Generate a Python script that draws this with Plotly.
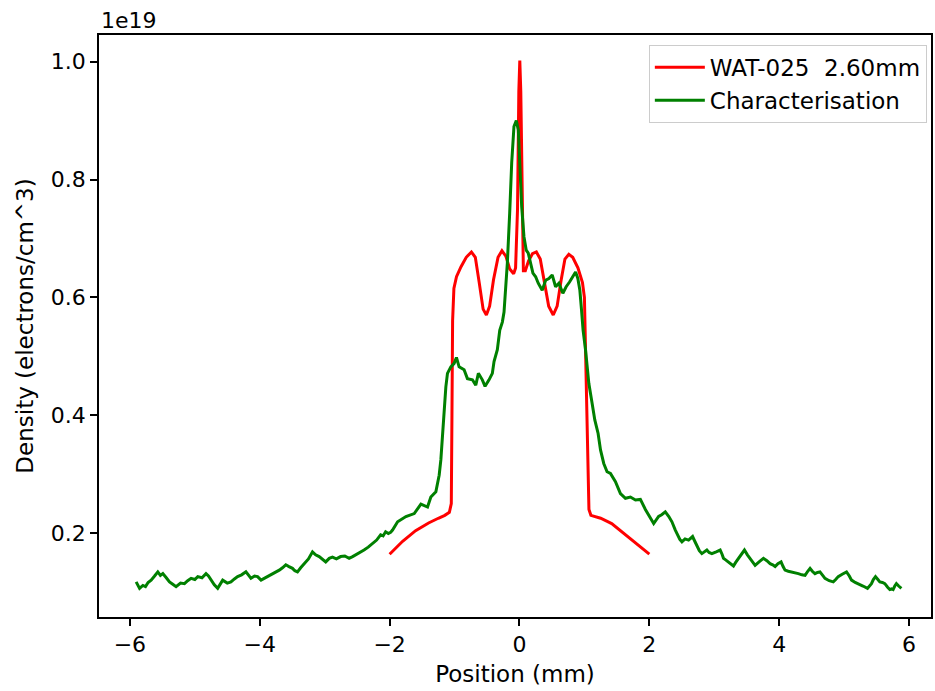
import plotly.graph_objects as go

# Red curve: WAT-025 2.60mm (density in units of 1e19 electrons/cm^3)
red_x = [-2.00, -1.80, -1.60, -1.40, -1.25, -1.15, -1.08, -1.05, -1.04, -1.03, -1.01, -0.97,
         -0.90, -0.82, -0.74, -0.68, -0.62, -0.56, -0.51, -0.46, -0.40, -0.33, -0.27, -0.21,
         -0.15, -0.09, -0.06, -0.03, -0.01, 0.005, 0.02, 0.04, 0.06, 0.09, 0.14, 0.20, 0.26,
         0.32, 0.38, 0.45, 0.52, 0.58, 0.64, 0.70, 0.76, 0.82, 0.90, 0.97, 1.00, 1.03, 1.05,
         1.07, 1.10, 1.25, 1.42, 1.60, 1.80, 2.00]
red_y = [0.164, 0.186, 0.204, 0.217, 0.225, 0.230, 0.235, 0.250, 0.400, 0.560, 0.615, 0.635,
         0.652, 0.668, 0.677, 0.668, 0.625, 0.580, 0.570, 0.585, 0.630, 0.668, 0.679, 0.670,
         0.648, 0.640, 0.650, 0.750, 0.950, 1.002, 0.950, 0.750, 0.645, 0.645, 0.662, 0.674, 0.677,
         0.665, 0.625, 0.585, 0.570, 0.585, 0.628, 0.665, 0.673, 0.668, 0.650, 0.625, 0.600, 0.450, 0.300,
         0.240, 0.230, 0.225, 0.216, 0.200, 0.183, 0.164]

# Green curve: Characterisation
green_x = [-5.904, -5.878, -5.851, -5.80, -5.76, -5.72, -5.673, -5.62, -5.570, -5.53,
           -5.493, -5.44, -5.390, -5.34, -5.289, -5.22, -5.160, -5.11, -5.058, -5.00,
           -4.955, -4.89, -4.828, -4.79, -4.751, -4.70, -4.648, -4.61, -4.571, -4.50,
           -4.444, -4.39, -4.341, -4.28, -4.213, -4.17, -4.136, -4.08, -4.034, -3.98,
           -3.931, -3.88, -3.829, -3.76, -3.700, -3.65, -3.599, -3.55, -3.496, -3.46,
           -3.419, -3.37, -3.316, -3.25, -3.188, -3.14, -3.085, -3.03, -2.984, -2.93,
           -2.881, -2.82, -2.754, -2.69, -2.624, -2.57, -2.523, -2.46, -2.394, -2.33,
           -2.266, -2.20, -2.139, -2.10, -2.062, -2.02, -1.985,
           -1.955, -1.877, -1.749, -1.621, -1.518, -1.416, -1.365, -1.288, -1.237, -1.211,
           -1.186, -1.160, -1.134, -1.109, -1.057, -1.006, -0.971, -0.930, -0.853, -0.802,
           -0.725, -0.673, -0.633, -0.572, -0.530, -0.469, -0.418, -0.392, -0.341, -0.304,
           -0.264, -0.238, -0.187, -0.151, -0.120, -0.085, -0.049, -0.018, 0.003, 0.034,
           0.069, 0.104, 0.135, 0.172, 0.207, 0.249, 0.289, 0.350, 0.403, 0.453,
           0.504, 0.556, 0.607, 0.668, 0.719, 0.771, 0.822, 0.864, 0.899, 0.930,
           0.956, 0.980, 1.017, 1.068, 1.119, 1.160, 1.211, 1.248, 1.298, 1.349,
           1.401, 1.478, 1.555, 1.632, 1.709, 1.786, 1.862, 1.939,
           2.067, 2.10, 2.143, 2.19, 2.246, 2.30, 2.348, 2.40, 2.440, 2.47,
           2.502, 2.55, 2.604, 2.64, 2.666, 2.70, 2.732, 2.77, 2.809, 2.85,
           2.886, 2.92, 2.963, 3.03, 3.091, 3.12, 3.142, 3.18, 3.219, 3.26,
           3.296, 3.33, 3.373, 3.42, 3.465, 3.51, 3.553, 3.59, 3.629, 3.69,
           3.757, 3.81, 3.860, 3.90, 3.937, 3.98, 4.029, 4.06, 4.090, 4.14,
           4.192, 4.24, 4.295, 4.35, 4.398, 4.44, 4.475, 4.51, 4.551, 4.59,
           4.628, 4.67, 4.705, 4.77, 4.833, 4.87, 4.909, 4.97, 5.037, 5.08,
           5.114, 5.17, 5.217, 5.29, 5.360, 5.39, 5.421, 5.45, 5.483, 5.52,
           5.550, 5.59, 5.627, 5.67, 5.704, 5.73, 5.754, 5.78, 5.805, 5.84,
           5.882]
green_y = [0.117, 0.110, 0.106, 0.111, 0.109, 0.116, 0.120, 0.127, 0.134, 0.128,
           0.131, 0.124, 0.117, 0.113, 0.109, 0.115, 0.114, 0.119, 0.123, 0.121,
           0.126, 0.124, 0.131, 0.127, 0.120, 0.112, 0.106, 0.114, 0.120, 0.115,
           0.117, 0.122, 0.126, 0.129, 0.134, 0.128, 0.123, 0.127, 0.126, 0.120,
           0.123, 0.126, 0.128, 0.133, 0.137, 0.141, 0.146, 0.143, 0.140, 0.136,
           0.134, 0.141, 0.148, 0.156, 0.168, 0.163, 0.160, 0.155, 0.151, 0.157,
           0.159, 0.156, 0.160, 0.161, 0.157, 0.160, 0.163, 0.166, 0.171, 0.176,
           0.182, 0.188, 0.197, 0.195, 0.202, 0.199, 0.201,
           0.205, 0.219, 0.228, 0.233, 0.249, 0.244, 0.261, 0.270, 0.298, 0.324,
           0.369, 0.414, 0.448, 0.471, 0.482, 0.488, 0.498, 0.482, 0.477, 0.462,
           0.460, 0.451, 0.471, 0.460, 0.449, 0.460, 0.471, 0.491, 0.511, 0.544,
           0.558, 0.575, 0.658, 0.743, 0.828, 0.890, 0.900, 0.884, 0.828, 0.754,
           0.703, 0.680, 0.675, 0.658, 0.641, 0.635, 0.624, 0.612, 0.629, 0.632,
           0.638, 0.618, 0.624, 0.607, 0.618, 0.626, 0.635, 0.643, 0.632, 0.612,
           0.578, 0.544, 0.511, 0.454, 0.420, 0.392, 0.369, 0.341, 0.318, 0.304,
           0.301, 0.287, 0.267, 0.259, 0.261, 0.256, 0.257, 0.240,
           0.216, 0.222, 0.228, 0.231, 0.236, 0.228, 0.219, 0.205, 0.196, 0.189,
           0.185, 0.190, 0.188, 0.192, 0.194, 0.186, 0.179, 0.170, 0.165, 0.169,
           0.171, 0.167, 0.165, 0.168, 0.171, 0.164, 0.157, 0.154, 0.151, 0.147,
           0.144, 0.150, 0.157, 0.164, 0.171, 0.163, 0.157, 0.150, 0.145, 0.151,
           0.157, 0.153, 0.148, 0.146, 0.143, 0.148, 0.151, 0.143, 0.137, 0.135,
           0.134, 0.132, 0.131, 0.129, 0.128, 0.135, 0.140, 0.135, 0.131, 0.133,
           0.134, 0.128, 0.123, 0.119, 0.117, 0.121, 0.126, 0.130, 0.134, 0.127,
           0.120, 0.116, 0.114, 0.110, 0.106, 0.110, 0.114, 0.121, 0.126, 0.121,
           0.117, 0.116, 0.114, 0.108, 0.104, 0.105, 0.104, 0.110, 0.114, 0.110,
           0.106]

x_ticks = [-6, -4, -2, 0, 2, 4, 6]
y_ticks = [0.2, 0.4, 0.6, 0.8, 1.0]
y_tick_text = ["0.2", "0.4", "0.6", "0.8", "1.0"]

FONT = "DejaVu Sans"
FS_TICK = 22
FS = 23

fig = go.Figure()
fig.add_trace(go.Scatter(x=red_x, y=red_y, mode="lines", name="WAT-025  2.60mm",
                         line=dict(color="#ff0000", width=3)))
fig.add_trace(go.Scatter(x=green_x, y=green_y, mode="lines", name="Characterisation",
                         line=dict(color="#008000", width=3)))

axis_common = dict(showgrid=False, zeroline=False, showline=True, linecolor="black",
                   linewidth=1.6, mirror=True, ticks="outside", ticklen=7, tickwidth=1.6,
                   tickcolor="black", tickfont=dict(family=FONT, size=FS_TICK, color="black"))

fig.update_xaxes(range=[-6.476, 6.338], tickvals=x_ticks,
                 title=dict(text="Position (mm)", font=dict(family=FONT, size=FS, color="black"),
                            standoff=10),
                 **axis_common)
fig.update_yaxes(range=[0.0574, 1.0453], tickvals=y_ticks, ticktext=y_tick_text,
                 title=dict(text="Density (electrons/cm^3)",
                            font=dict(family=FONT, size=FS, color="black"), standoff=11),
                 **axis_common)

fig.add_annotation(text="1e19", xref="paper", yref="paper", x=0, y=1.0,
                   xanchor="left", yanchor="bottom", showarrow=False,
                   font=dict(family=FONT, size=FS_TICK, color="black"), yshift=0)

fig.update_layout(
    width=935, height=691,
    margin=dict(l=99, r=2, t=35, b=74),
    plot_bgcolor="white", paper_bgcolor="white",
    font=dict(family=FONT, size=FS, color="black"),
    legend=dict(x=0.995, y=0.983, xanchor="right", yanchor="top",
                bordercolor="#cccccc", borderwidth=1, bgcolor="rgba(255,255,255,0.8)",
                font=dict(family=FONT, size=FS, color="black"), itemwidth=50),
    showlegend=True,
)

fig.write_html("out.html", config={"displayModeBar": False},
               post_script="document.body.style.margin='0';document.body.style.overflow='hidden';")
